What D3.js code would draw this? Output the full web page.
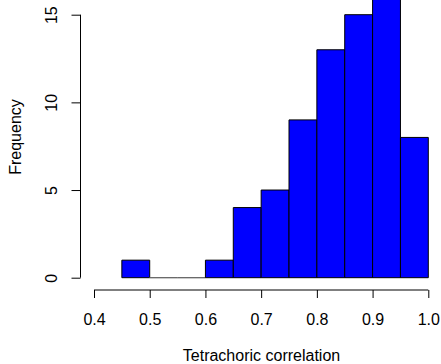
<!DOCTYPE html>
<html>
<head>
<meta charset="utf-8">
<script src="https://cdn.jsdelivr.net/npm/d3@7"></script>
<style>
  html, body { margin: 0; padding: 0; background: #fff; }
  svg { display: block; }
  text { font-family: "Liberation Sans", Arial, sans-serif; font-size: 16px; fill: #000; }
</style>
</head>
<body>
<div id="chart"></div>
<script>
// histogram bins (left edges) and counts
const binStarts = [0.45, 0.50, 0.55, 0.60, 0.65, 0.70, 0.75, 0.80, 0.85, 0.90, 0.95];
const counts = [1, 0, 0, 1, 4, 5, 9, 13, 15, 16, 8];
const binWidth = 0.05;
const xTicks = [0.4, 0.5, 0.6, 0.7, 0.8, 0.9, 1.0];
const yTicks = [0, 5, 10, 15];

const width = 441, height = 364;
const fontSize = '16px';

const svg = d3.select('#chart').append('svg')
  .attr('width', width)
  .attr('height', height);

const x = d3.scaleLinear().domain([0.4, 1.0]).range([94, 428.3]);
const y = d3.scaleLinear().domain([0, 15]).range([277.7, 14.7]);

// clip to the plotting region (tallest bar runs off the top)
svg.append('clipPath').attr('id', 'plot')
  .append('rect').attr('x', 0).attr('y', 0).attr('width', width).attr('height', 289);

const data = binStarts.map((s, i) => ({ x0: s, x1: s + binWidth, n: counts[i] }));

// bars as paths so empty bins still show their baseline stroke
svg.append('g')
  .attr('clip-path', 'url(#plot)')
  .selectAll('path')
  .data(data)
  .join('path')
  .attr('d', d => {
    const p = d3.path();
    p.moveTo(x(d.x0), y(0));
    p.lineTo(x(d.x0), y(d.n));
    p.lineTo(x(d.x1), y(d.n));
    p.lineTo(x(d.x1), y(0));
    p.closePath();
    return p.toString();
  })
  .attr('fill', d => d.n > 0 ? '#0000ff' : 'none')
  .attr('stroke', d => d.n > 0 ? '#000' : '#666')
  .attr('stroke-width', 1);

// x axis (R style: line spans first to last tick)
const xAxis = svg.append('g')
  .attr('transform', 'translate(0,290)')
  .call(d3.axisBottom(x).tickValues(xTicks).tickFormat(d3.format('.1f')).tickSize(8).tickSizeOuter(0));
xAxis.select('.domain').attr('d', `M${x(0.4)},0H${x(1.0)}`).attr('stroke', '#000');
xAxis.selectAll('.tick line').attr('stroke', '#000');
xAxis.selectAll('.tick text')
  .attr('y', 35).attr('dy', null)
  .style('font-family', '"Liberation Sans", Arial, sans-serif')
  .style('font-size', fontSize);

// y axis
const yAxis = svg.append('g')
  .attr('transform', 'translate(80.5,0)')
  .call(d3.axisLeft(y).tickValues(yTicks).tickFormat(d3.format('d')).tickSize(9).tickSizeOuter(0));
yAxis.select('.domain').attr('d', `M0,${y(0)}V${y(15)}`).attr('stroke', '#000');
yAxis.selectAll('.tick line').attr('stroke', '#000');
yAxis.selectAll('.tick text')
  .attr('x', null).attr('dy', null)
  .attr('text-anchor', 'middle')
  .attr('transform', 'translate(-23.2,0) rotate(-90)')
  .style('font-family', '"Liberation Sans", Arial, sans-serif')
  .style('font-size', fontSize);

// axis titles
svg.append('text')
  .attr('x', 261.5).attr('y', 360.5)
  .attr('text-anchor', 'middle')
  .text('Tetrachoric correlation');

svg.append('text')
  .attr('transform', 'translate(20.7,137) rotate(-90)')
  .attr('text-anchor', 'middle')
  .text('Frequency');
</script>
</body>
</html>
